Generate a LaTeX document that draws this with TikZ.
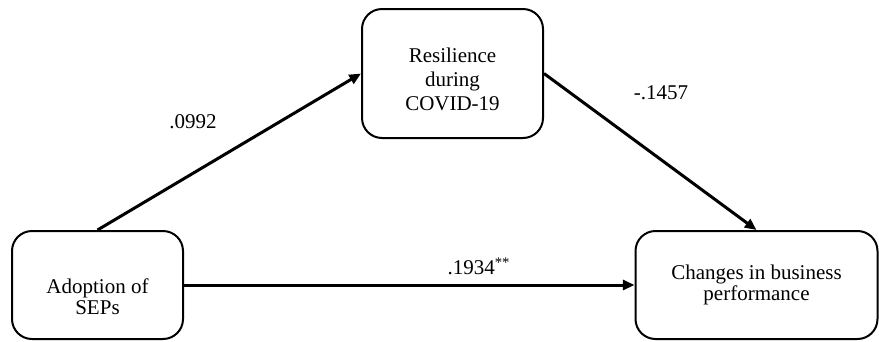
\documentclass[tikz,border=0pt]{standalone}
\usepackage{fontspec}
\setmainfont{Liberation Serif}
\usetikzlibrary{arrows.meta}

\begin{document}
\begin{tikzpicture}[x=0.6pt,y=-0.6pt,
    box/.style={draw,line width=1.2pt,rounded corners=12pt,align=center,
      inner sep=0pt,font=\fontsize{12.6}{12.8}\selectfont},
    link/.style={line width=1.8pt,-{Triangle[length=7pt,width=6pt]}},
    coef/.style={font=\fontsize{12.6}{14}\selectfont}]
      \useasboundingbox (0,0) rectangle (879,341);
      \node[box,minimum width=102.6pt,minimum height=64.8pt] (sep) at (97.5,285) {\rule{0pt}{22.7pt}Adoption of\\SEPs};
      \node[box,minimum width=108.6pt,minimum height=77.4pt,font=\fontsize{12.6}{14.4}\selectfont] (res) at (452.5,73.5) {\rule{0pt}{15.9pt}Resilience\\during\\COVID-19};
      \node[box,minimum width=145.2pt,minimum height=64.8pt] (perf) at (756.5,285) {Changes in business\\performance};
      \draw[link] (sep.north) -- (res.west);
      \draw[link] (res.east) -- (perf.north);
      \draw[link] (sep.east) -- (perf.west);
      \node[coef] (a) at (193,122) {.0992};
      \node[coef] (b) at (661,93) {-.1457};
      \node[coef] (c) at (479,266) {.1934\textsuperscript{**}};
\end{tikzpicture}
\end{document}
